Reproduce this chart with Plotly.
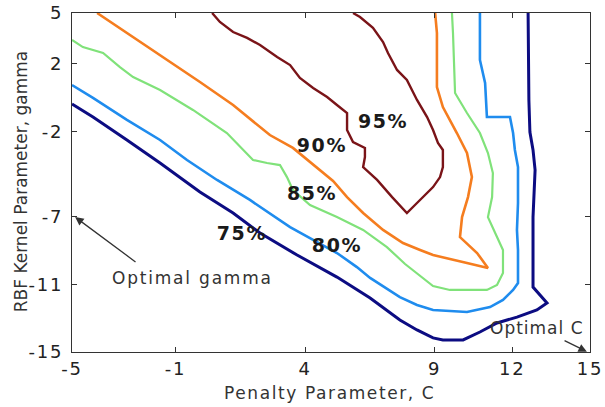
import plotly.graph_objects as go

# ---- data ----
levels = ["75%", "80%", "85%", "90%", "95%"]

c75_x = [-5.00, -4.19, -2.88, -1.60, -0.06, 1.22, 2.26, 3.69, 5.23, 6.51, 7.66, 8.32, 8.94, 9.32,
         10.10, 10.75, 11.41, 12.18, 12.95, 13.34, 12.80, 12.80, 12.88, 12.80, 12.68, 12.64, 12.61]
c75_y = [-0.37, -1.14, -2.49, -3.85, -5.56, -6.80, -7.98, -9.28, -10.58, -11.81, -13.11, -13.70, -14.17, -14.29,
         -14.29, -13.82, -13.29, -12.94, -12.52, -12.11, -11.17, -7.04, -4.26, -3.08, -2.02, -0.13, 5.00]

c80_x = [-5.00, -4.19, -2.88, -1.60, -0.56, 0.60, 1.87, 2.64, 3.42, 4.31, 5.23, 6.00, 6.51, 7.66, 8.32,
         8.94, 10.25, 11.14, 11.64, 12.03, 12.22, 12.22, 12.18, 12.22, 12.22, 12.10, 12.03, 11.91, 11.02,
         10.95, 10.75, 10.75]
c80_y = [0.75, -0.01, -1.31, -2.49, -3.67, -4.85, -6.03, -6.80, -7.63, -8.39, -9.16, -9.99, -10.63, -11.76, -12.23,
         -12.52, -12.64, -12.35, -11.93, -11.34, -10.93, -8.98, -7.80, -6.21, -4.09, -3.08, -2.08, -1.14, -1.14,
         0.87, 2.23, 5.00]

c85_x = [-5.00, -4.58, -3.80, -3.15, -2.64, -1.60, -0.33, 0.98, 1.99, 2.53, 3.03, 3.30, 3.53, 4.19, 5.23,
         6.24, 7.16, 7.86, 8.94, 9.59, 11.02, 11.41, 11.64, 11.64, 11.41, 11.06, 11.22, 11.25, 11.06, 10.75,
         10.25, 9.79, 9.71, 9.67]
c85_y = [3.41, 2.99, 2.64, 1.81, 1.22, 0.46, -0.72, -2.08, -3.67, -3.85, -3.97, -4.68, -5.44, -6.33, -7.04,
         -7.80, -8.81, -9.81, -11.11, -11.34, -11.34, -11.05, -10.34, -8.98, -8.22, -7.04, -5.86, -4.44, -3.26, -2.08,
         -0.90, 0.28, 3.82, 5.00]

c90_x = [-4.03, -2.88, -1.60, -0.06, 1.22, 2.64, 3.53, 4.31, 5.08, 5.62, 6.24, 7.01, 7.78, 8.44, 8.94,
         10.25, 11.06, 10.64, 9.98, 10.06, 10.29, 10.44, 10.25, 9.86, 9.32, 9.09, 9.09, 9.02]
c90_y = [5.00, 3.82, 2.52, 0.93, -0.43, -2.20, -2.96, -3.97, -4.91, -5.86, -6.80, -7.80, -8.57, -8.98, -9.28,
         -9.75, -10.04, -9.16, -8.22, -7.04, -5.86, -4.68, -3.26, -2.08, -0.55, 0.63, 3.82, 5.00]

c95_x = [0.41, 0.71, 1.22, 1.76, 2.26, 2.92, 3.42, 3.80, 4.31, 4.85, 5.23, 5.62, 5.62, 5.85, 6.31, 6.31,
         6.24, 6.78, 7.36, 7.93, 8.32, 8.94, 9.21, 9.32, 9.32, 9.13, 8.94, 8.71, 8.32, 7.93, 7.55, 7.20,
         7.01, 6.62, 6.12, 5.85]
c95_y = [5.00, 4.47, 3.88, 3.53, 3.11, 2.40, 1.93, 1.17, 0.58, 0.04, -0.43, -0.90, -1.90, -2.61, -2.96, -3.50,
         -4.09, -4.85, -5.86, -6.80, -6.21, -5.27, -4.68, -4.09, -3.08, -2.67, -1.90, -1.14, -0.13, 1.05, 1.64, 2.64,
         3.29, 4.12, 4.76, 5.00]

label_x = [1.56, 5.23, 4.27, 4.65, 7.01]
label_y = [-8.10, -8.81, -5.74, -2.91, -1.49]

x_ticks = [-5, -1, 4, 9, 12, 15]
x_tick_labels = ["-5", "-1", "4", "9", "12", "15"]
y_ticks = [5, 2, -2, -7, -11, -15]
y_tick_labels = ["5", "2", "-2", "-7", "-11", "-15"]

x_title = "Penalty Parameter, C"
y_title = "RBF Kernel Parameter, gamma"

gamma_text = "Optimal gamma"
gamma_tip = (-4.88, -7.04)
gamma_tail = (-2.49, -9.75)
gamma_text_pos = (-0.33, -10.63)

c_text = "Optimal C"
c_tip = (14.88, -14.98)
c_tail = (13.96, -14.29)
c_text_pos = (12.95, -13.58)

# ---- styling ----
colors = ["#0c0c82", "#1f8cee", "#80e27a", "#f57d1f", "#7a1418"]
widths = [3.0, 2.6, 2.2, 2.6, 2.4]
series = [(c75_x, c75_y), (c80_x, c80_y), (c85_x, c85_y), (c90_x, c90_y), (c95_x, c95_y)]

FONT = "DejaVu Sans"


def spaced(t, px):
    return '<span style="letter-spacing:%spx">%s</span>' % (px, t)


fig = go.Figure()
for (xs, ys), col, w, name in zip(series, colors, widths, levels):
    fig.add_trace(go.Scatter(x=xs, y=ys, mode="lines", name=name,
                             line=dict(color=col, width=w), hoverinfo="skip"))

fig.add_trace(go.Scatter(x=label_x, y=label_y, mode="text",
                         text=["<b>" + spaced(l, 1.6) + "</b>" for l in levels],
                         textfont=dict(family=FONT, size=19, color="#1a1a1a"),
                         textposition="middle center", hoverinfo="skip"))

annotations = [
    dict(x=gamma_tip[0], y=gamma_tip[1], ax=gamma_tail[0], ay=gamma_tail[1],
         xref="x", yref="y", axref="x", ayref="y", text="", showarrow=True,
         arrowhead=2, arrowsize=1.3, arrowwidth=1.3, arrowcolor="#333333", standoff=0),
    dict(x=c_tip[0], y=c_tip[1], ax=c_tail[0], ay=c_tail[1],
         xref="x", yref="y", axref="x", ayref="y", text="", showarrow=True,
         arrowhead=2, arrowsize=1.3, arrowwidth=1.3, arrowcolor="#333333", standoff=0),
    dict(x=gamma_text_pos[0], y=gamma_text_pos[1], xref="x", yref="y",
         text=spaced(gamma_text, 1.8), showarrow=False,
         font=dict(family=FONT, size=17, color="#333333")),
    dict(x=c_text_pos[0], y=c_text_pos[1], xref="x", yref="y",
         text=spaced(c_text, 1.0), showarrow=False,
         font=dict(family=FONT, size=17, color="#333333")),
    # axis titles
    dict(x=0.498, y=-0.121, xref="paper", yref="paper", xanchor="center", yanchor="middle",
         text=spaced(x_title, 1.6), showarrow=False,
         font=dict(family=FONT, size=17, color="#333333")),
    dict(x=-0.097, y=0.503, xref="paper", yref="paper", xanchor="center", yanchor="middle",
         text=y_title, textangle=-90, showarrow=False,
         font=dict(family=FONT, size=17, color="#333333")),
]

axis_common = dict(showgrid=False, zeroline=False, showline=True, linecolor="#333333",
                   linewidth=1.2, mirror="allticks", ticks="inside", ticklen=5,
                   tickcolor="#333333", automargin=False,
                   tickfont=dict(family=FONT, size=18, color="#222222"))

fig.update_layout(
    width=605, height=407,
    margin=dict(l=72, r=15, t=13, b=55, autoexpand=False),
    paper_bgcolor="white", plot_bgcolor="white",
    showlegend=False,
    annotations=annotations,
    xaxis=dict(range=[-5, 15], tickvals=x_ticks,
               ticktext=[spaced(t, 1.8) for t in x_tick_labels],
               **axis_common),
    yaxis=dict(range=[-15, 5], tickvals=y_ticks,
               ticktext=[spaced(t, 1.8) for t in y_tick_labels],
               ticklabelstandoff=4,
               **axis_common),
)

fig.write_html("out.html",
               config={"displayModeBar": False},
               post_script="document.body.style.margin='0';document.body.style.overflow='hidden';")
